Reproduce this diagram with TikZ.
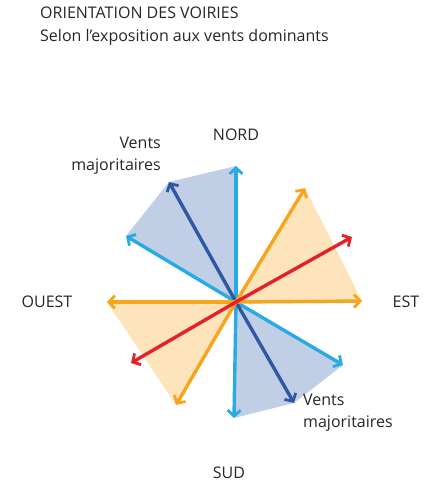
\documentclass[tikz,border=0pt]{standalone}
\usepackage{fontspec}
\setmainfont{Open Sans}
\usetikzlibrary{arrows.meta,positioning}
\definecolor{vcyan}{RGB}{40,170,226}
\definecolor{vdark}{RGB}{46,88,164}
\definecolor{vorange}{RGB}{246,165,28}
\definecolor{vred}{RGB}{230,32,40}
\definecolor{vbluefill}{RGB}{192,206,230}
\definecolor{vorangefill}{RGB}{253,228,186}

\begin{document}
\begin{tikzpicture}[x=1pt,y=-1pt,
  wind/.style={line width=3.4pt,-{Straight Barb[length=6pt,width=13pt,line width=2.8pt]}},
  cardinal/.style={font=\fontsize{16}{18}\selectfont,text=black!85,inner sep=0pt},
  caption/.style={font=\fontsize{16}{23}\selectfont,text=black!85,align=left,inner sep=0pt},
  note/.style={font=\fontsize{16}{21.5}\selectfont,text=black!85,inner sep=0pt}
]
  \useasboundingbox (0,0) rectangle (423,488);
  % Title
  \node[caption,anchor=north west] (title) at (40,7)
    {ORIENTATION DES VOIRIES\\Selon l'exposition aux vents dominants};
  % Centre and arrow tips
  \coordinate (o) at (236,302);
  \coordinate (n) at (236,166);
  \coordinate (nnw) at (169,182);
  \coordinate (nw) at (126,236);
  \coordinate (ne) at (305,188);
  \coordinate (ene) at (352,237);
  \coordinate (e) at (362,301);
  \coordinate (w) at (107,302);
  \coordinate (wsw) at (131,363);
  \coordinate (ssw) at (176,405);
  \coordinate (s) at (234,418);
  \coordinate (sse) at (294,403);
  \coordinate (se) at (343,365);
  % Sectors
  \fill[vbluefill] (o) -- (n) -- (nnw) -- (nw) -- cycle;
  \fill[vbluefill] (o) -- (s) -- (sse) -- (se) -- cycle;
  \fill[vorangefill] (o) -- (ne) -- (e) -- cycle;
  \fill[vorangefill] (o) -- (w) -- (ssw) -- cycle;
  % Arrows
  \draw[wind,vcyan] (o) -- (n);
  \draw[wind,vcyan] (o) -- (nw);
  \draw[wind,vcyan] (o) -- (s);
  \draw[wind,vcyan] (o) -- (se);
  \draw[wind,vdark] (o) -- (nnw);
  \draw[wind,vdark] (o) -- (sse);
  \draw[wind,vorange] (o) -- (ne);
  \draw[wind,vorange] (o) -- (e);
  \draw[wind,vorange] (o) -- (w);
  \draw[wind,vorange] (o) -- (ssw);
  \draw[wind,vred] (o) -- (ene);
  \draw[wind,vred] (o) -- (wsw);
  % Cardinal points
  \node[cardinal] (nord) at (236,135) {NORD};
  \node[cardinal] (sud) at (229,473) {SUD};
  \node[cardinal] (ouest) at (47,302) {OUEST};
  \node[cardinal] (est) at (406,302) {EST};
  % Prevailing winds
  \node[note,align=right,anchor=north east] (vtop) at (161,137) {Vents\\majoritaires};
  \node[note,align=left,anchor=north west] (vbot) at (303,394) {Vents\\majoritaires};
\end{tikzpicture}
\end{document}
